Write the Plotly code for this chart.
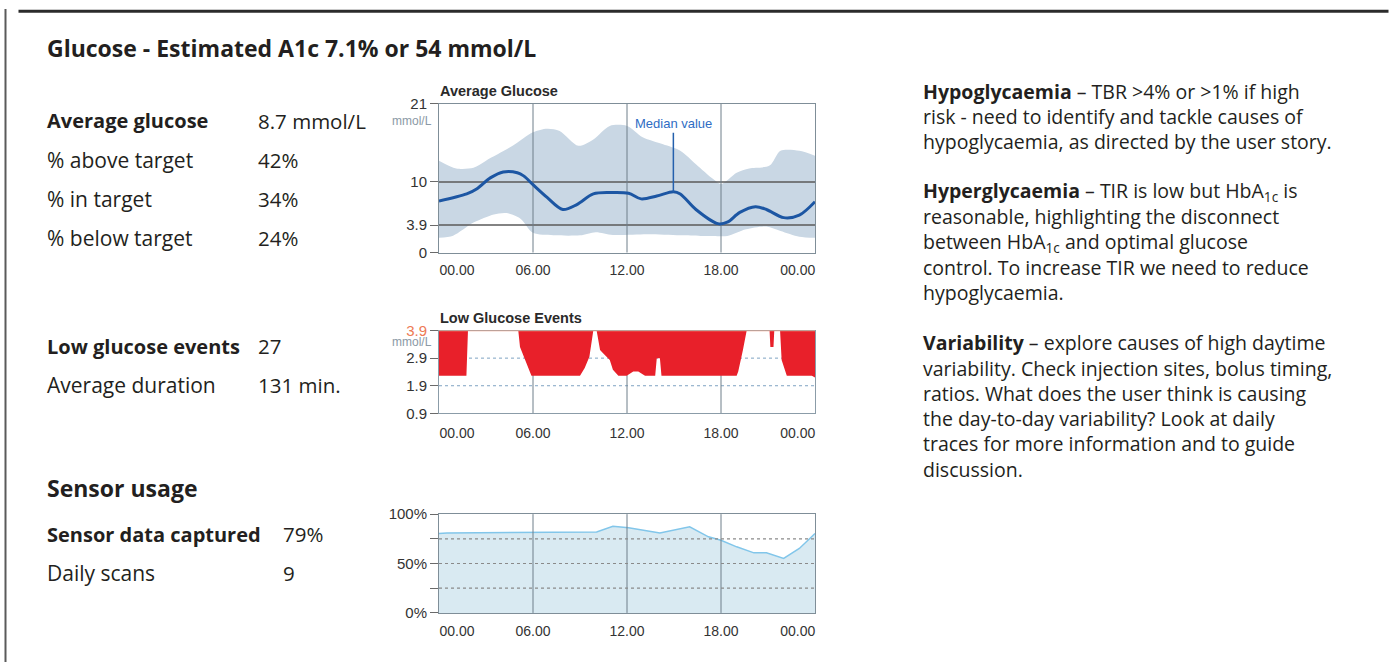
import plotly.graph_objects as go

W, H = 1399, 670

# ---------------- data ----------------
# Average glucose profile (mmol/L) by hour of day
median_hours = [0, 1.77, 2.4, 3.3, 4.1, 5.0, 5.4, 6.0, 6.9, 7.9, 8.8, 9.85, 10.9, 12.1, 12.9,
                13.9, 14.96, 15.4, 16.4, 17.8, 18.4, 19.2, 20.2, 20.9, 22.0, 23.0, 24.0]
median_vals = [7.3, 8.3, 9.0, 10.6, 11.4, 11.3, 10.85, 9.6, 7.8, 6.1, 6.8, 8.3, 8.5, 8.4, 7.6,
               8.0, 8.6, 8.3, 6.1, 4.1, 4.3, 5.7, 6.5, 6.1, 4.95, 5.3, 7.2]
upper_hours = [0, 1.1, 2.2, 3.0, 4.7, 6.0, 6.9, 7.7, 8.9, 9.85, 10.9, 12.0, 13.0, 14.3, 15.4,
               16.4, 17.5, 18.0, 19.0, 19.8, 21.1, 21.8, 23.0, 24.0]
upper_vals = [13.0, 11.9, 12.0, 13.0, 15.1, 17.0, 17.5, 17.2, 15.1, 16.0, 17.9, 17.9, 16.3, 15.3, 14.4,
              12.5, 10.4, 9.7, 11.3, 11.9, 12.3, 14.4, 14.4, 13.7]
lower_hours = [0, 0.9, 2.2, 3.5, 4.3, 5.2, 6.0, 7.3, 9.0, 10.0, 11.1, 13.3, 15.4, 16.7, 17.5,
               18.4, 19.6, 20.9, 21.8, 23.0, 24.0]
lower_vals = [2.1, 2.4, 4.25, 5.4, 5.6, 4.8, 2.8, 2.45, 2.45, 2.9, 2.5, 2.6, 2.45, 2.36, 2.36,
              2.36, 3.3, 3.7, 3.07, 2.26, 2.1]
glucose_ref_lines = [3.9, 10]

# Low glucose events (mmol/L); 3.9 = no event
low_hours = [0, 1.75, 1.85, 5.06, 5.17, 5.6, 5.9, 9.0, 9.3, 9.6, 9.85, 10.06, 10.28, 10.49, 10.9,
             11.1, 11.45, 11.98, 12.4, 12.72, 13.15, 13.8, 13.9, 14.1, 14.2, 19.0, 19.1, 19.4,
             19.64, 21.1, 21.15, 21.35, 21.4, 21.77, 21.87, 22.2, 23.8, 24.0]
low_vals = [2.26, 2.26, 3.9, 3.9, 3.3, 2.71, 2.26, 2.26, 2.54, 2.95, 3.9, 3.9, 3.19, 3.07, 2.83,
            2.48, 2.26, 2.26, 2.42, 2.42, 2.26, 2.26, 2.9, 2.9, 2.26, 2.26, 2.42, 3.19,
            3.9, 3.9, 3.3, 3.3, 3.9, 3.9, 2.83, 2.26, 2.26, 2.2]
low_top = 3.9
low_ref_lines = [2.9, 1.9]

# Sensor data captured (%)
sensor_hours = [0, 0.5, 10.06, 11.1, 12.1, 14.1, 16.0, 17.2, 18.0, 19.0, 20.1, 20.9, 22.0, 23.0, 24.0]
sensor_pct = [80.4, 81, 82, 87.8, 86.1, 81, 87.2, 77, 73.6, 66.9, 60.8, 60.8, 55.1, 65.2, 80.4]
sensor_ref_lines = [25, 50, 75]

hour_grid = [6, 12, 18]
x_tick_pos = [1.15, 6, 12, 18, 22.9]
x_tick_text = ["00.00", "06.00", "12.00", "18.00", "00.00"]

summary_rows = [("Average glucose", "8.7 mmol/L", True), ("% above target", "42%", False),
                ("% in target", "34%", False), ("% below target", "24%", False)]
low_rows = [("Low glucose events", "27", True), ("Average duration", "131 min.", False)]
sensor_rows = [("Sensor data captured", "79%", True), ("Daily scans", "9", False)]

right_lines = [
    "<b>Hypoglycaemia</b> – TBR >4% or >1% if high",
    "risk - need to identify and tackle causes of",
    "hypoglycaemia, as directed by the user story.",
    None,
    "<b>Hyperglycaemia</b> – TIR is low but HbA<sub>1c</sub> is",
    "reasonable, highlighting the disconnect",
    "between HbA<sub>1c</sub> and optimal glucose",
    "control. To increase TIR we need to reduce",
    "hypoglycaemia.",
    None,
    "<b>Variability</b> – explore causes of high daytime",
    "variability. Check injection sites, bolus timing,",
    "ratios. What does the user think is causing",
    "the day-to-day variability? Look at daily",
    "traces for more information and to guide",
    "discussion.",
]

# ---------------- helpers ----------------
# page-pixel -> paper coordinates (corrected for the small vertical offset/scale seen in the capture)
Y_OFF, Y_SCALE, X_OFF = 7.8, 0.9767, 1.5


def px(x, off=X_OFF):
    return (x - off) / W


def py(y):
    return 1 - ((y - Y_OFF) / Y_SCALE) / H


TXT_FONT = "Open Sans"
AX_FONT = "Liberation Sans"
TXT_COL = "#231f20"
GRID_COL = "#6f7e8a"

fig = go.Figure()

# Chart 1: Average glucose
fig.add_trace(go.Scatter(x=upper_hours, y=upper_vals, mode="lines", line=dict(width=0, shape="spline", smoothing=0.8),
                         hoverinfo="skip", xaxis="x", yaxis="y"))
fig.add_trace(go.Scatter(x=lower_hours, y=lower_vals, mode="lines", line=dict(width=0, shape="spline", smoothing=0.8),
                         fill="tonexty", fillcolor="#c9d7e4", hoverinfo="skip", xaxis="x", yaxis="y"))
# grid lines drawn over the band but under the median curve
for v in glucose_ref_lines:
    fig.add_trace(go.Scatter(x=[0, 24], y=[v, v], mode="lines", line=dict(color="#5a5a5a", width=1.5),
                             hoverinfo="skip", xaxis="x", yaxis="y"))
for h in hour_grid:
    fig.add_trace(go.Scatter(x=[h, h], y=[0, 21], mode="lines", line=dict(color=GRID_COL, width=1),
                             hoverinfo="skip", xaxis="x", yaxis="y"))
fig.add_trace(go.Scatter(x=median_hours, y=median_vals, mode="lines",
                         line=dict(color="#1c56a3", width=3, shape="spline", smoothing=0.9),
                         xaxis="x", yaxis="y"))

# Chart 2: Low glucose events
fig.add_trace(go.Scatter(x=[0, 24], y=[low_top, low_top], mode="lines", line=dict(width=0),
                         hoverinfo="skip", xaxis="x2", yaxis="y2"))
fig.add_trace(go.Scatter(x=low_hours, y=low_vals, mode="lines", line=dict(width=0, color="#e8202a"),
                         fill="tonexty", fillcolor="#e8202a", xaxis="x2", yaxis="y2"))

# Chart 3: Sensor usage
fig.add_trace(go.Scatter(x=sensor_hours, y=sensor_pct, mode="lines", line=dict(color="#82c6ea", width=1.5),
                         fill="tozeroy", fillcolor="#d9eaf2", xaxis="x3", yaxis="y3"))

XTICKFONT = dict(family=AX_FONT, size=14, color="#333333")
YTICKFONT = dict(family=AX_FONT, size=15, color="#333333")
xcommon = dict(range=[0, 24], tickmode="array", tickvals=x_tick_pos, ticktext=x_tick_text,
               ticks="", showgrid=False, zeroline=False, showline=True, mirror=True,
               tickfont=XTICKFONT, fixedrange=True)
ycommon = dict(tickmode="array", ticks="outside", ticklen=8, tickcolor="#6a6a6a", showgrid=False,
               zeroline=False, showline=True, mirror=True, tickfont=YTICKFONT, fixedrange=True)

pl, pr = px(439, 0), px(815, 0)
fig.update_layout(
    width=W, height=H, margin=dict(l=0, r=0, t=0, b=0), autosize=False,
    paper_bgcolor="white", plot_bgcolor="rgba(0,0,0,0)", showlegend=False,
    xaxis=dict(xcommon, domain=[pl, pr], anchor="y", linecolor="#7f8e98", ticklabelstandoff=5),
    yaxis=dict(ycommon, domain=[py(252), py(103)], range=[0, 21], anchor="x",
               tickvals=[0, 3.9, 10, 21], ticktext=["0", "3.9", "10", "21"], linecolor="#7f8e98"),
    xaxis2=dict(xcommon, domain=[pl, pr], anchor="y2", linecolor="#8b9ca8", ticklabelstandoff=7),
    yaxis2=dict(ycommon, domain=[py(413), py(330)], range=[0.9, 3.9], anchor="x2",
                tickvals=[0.9, 1.9, 2.9, 3.9],
                ticktext=["0.9", "1.9", "2.9", "<span style='color:#ee7a55'>3.9</span>"],
                linecolor="#8b9ca8"),
    xaxis3=dict(xcommon, domain=[pl, pr], anchor="y3", linecolor="#7f8e98", ticklabelstandoff=5),
    yaxis3=dict(ycommon, domain=[py(613), py(514)], range=[0, 100], anchor="x3",
                tickvals=[0, 25, 50, 75, 100], ticktext=["0%", "", "50%", "", "100%"],
                linecolor="#7f8e98"),
)

shapes = [
    # page frame
    dict(type="line", xref="paper", yref="paper", x0=px(7), x1=px(7), y0=0, y1=1,
         line=dict(color="#5a5a5a", width=2)),
    dict(type="line", xref="paper", yref="paper", x0=px(20), x1=px(1390), y0=py(10), y1=py(10),
         line=dict(color="#2b2b2b", width=3)),
    # low glucose chart: orange top border
    dict(type="line", xref="x2 domain", yref="y2", x0=0, x1=1, y0=low_top, y1=low_top,
         line=dict(color="#f0a58a", width=1.5)),
]
for v in low_ref_lines:
    shapes.append(dict(type="line", xref="x2 domain", yref="y2", x0=0, x1=1, y0=v, y1=v, layer="below",
                       line=dict(color="#7ea3c2", width=1, dash="dot")))
for h in hour_grid:
    shapes.append(dict(type="line", xref="x2", yref="y2 domain", x0=h, x1=h, y0=0, y1=1, layer="below",
                       line=dict(color=GRID_COL, width=1)))
    shapes.append(dict(type="line", xref="x3", yref="y3 domain", x0=h, x1=h, y0=0, y1=1,
                       line=dict(color=GRID_COL, width=1)))
for v in sensor_ref_lines:
    shapes.append(dict(type="line", xref="x3 domain", yref="y3", x0=0, x1=1, y0=v, y1=v,
                       line=dict(color="#8a8a8a", width=1.2, dash="dot")))
fig.update_layout(shapes=shapes)

ann = []


def text(x, y, s, size=17, bold=False, color=TXT_COL, family=TXT_FONT, anchor="left", off=X_OFF):
    if bold:
        s = "<b>" + s + "</b>"
    ann.append(dict(x=px(x, off), y=py(y), xref="paper", yref="paper", text=s, showarrow=False,
                    xanchor=anchor, yanchor="middle", font=dict(family=family, size=size, color=color)))


text(46, 47, "Glucose - Estimated A1c 7.1% or 54 mmol/L", size=23, bold=True)
for i, (lab, val, b) in enumerate(summary_rows):
    y = 120 + i * 39
    text(46, y, lab, size=20 if b else 21, bold=b)
    text(257, y, val, size=20.5)
for i, (lab, val, b) in enumerate(low_rows):
    y = 346 + i * 39
    text(46, y, lab, size=20 if b else 21, bold=b)
    text(257, y, val, size=20.5)
text(46, 488, "Sensor usage", size=23, bold=True)
for i, (lab, val, b) in enumerate(sensor_rows):
    y = 534 + i * 39
    text(46, y, lab, size=20 if b else 21, bold=b)
    text(282, y, val, size=20.5)

# right commentary
y = 90
for line in right_lines:
    if line is None:
        y += 25
        continue
    text(922, y, line, size=19.5)
    y += 25.3

# chart titles and units
text(438, 90, "Average Glucose", size=14.5, bold=True, family=AX_FONT, color="#2a2a2a", off=0)
text(438, 317, "Low Glucose Events", size=14.5, bold=True, family=AX_FONT, color="#2a2a2a", off=0)
text(434, 120, "mmol/L", size=12, color="#8b99a6", family=AX_FONT, anchor="right", off=0)
text(434, 342, "mmol/L", size=12, color="#8b99a6", family=AX_FONT, anchor="right", off=0)

ann.append(dict(x=14.96, y=8.6, xref="x", yref="y", text="Median value", showarrow=True,
                arrowhead=0, arrowwidth=1.5, arrowcolor="#2460ad", ax=0, ay=-68,
                font=dict(family=AX_FONT, size=13, color="#2f6dc4")))
fig.update_layout(annotations=ann)

page_css = ("document.documentElement.style.margin='0';document.body.style.margin='0';"
            "document.body.style.padding='0';document.documentElement.style.overflow='hidden';"
            "document.body.style.overflow='hidden';")
fig.write_html("out.html", config={"displayModeBar": False, "responsive": False}, post_script=page_css)
